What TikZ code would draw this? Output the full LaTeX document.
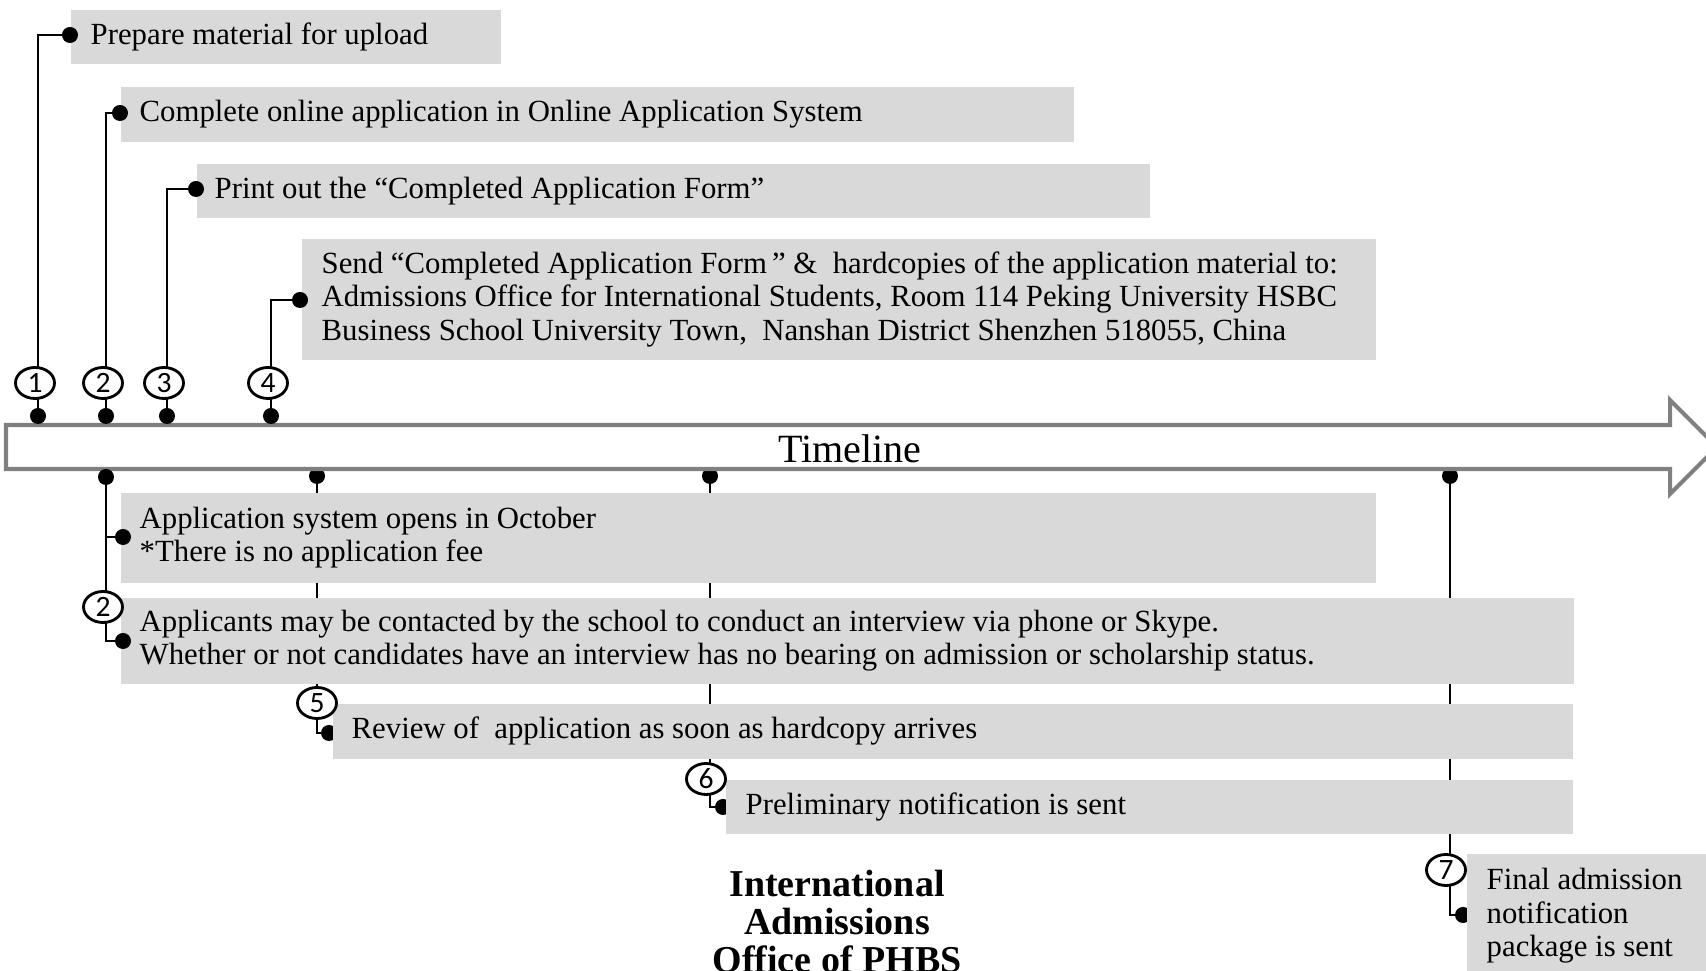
\documentclass[tikz,border=0pt]{standalone}
\usepackage{fontspec}
\setmainfont{Liberation Serif}
\newfontfamily\numfont{Carlito}
\usetikzlibrary{shapes.geometric,calc}
\definecolor{boxgray}{RGB}{217,217,217}
\definecolor{tlgray}{RGB}{128,128,128}
\newcommand\bodyfont{\fontsize{8.75pt}{9.5pt}\selectfont}
\pgfdeclarelayer{bg}
\pgfsetlayers{bg,main}
\tikzset{
 box/.style={fill=boxgray, draw=none, inner sep=0pt, anchor=north west},
 txt/.style={anchor=west, inner sep=0pt, align=left, font=\bodyfont},
 dot/.style={circle, fill=black, inner sep=0pt, minimum size=0.16cm},
 num/.style={ellipse, draw=black, line width=0.8pt, fill=white, inner sep=0pt, minimum width=0.39cm, minimum height=0.31cm, font=\numfont\fontsize{8.4pt}{9pt}\selectfont},
 con/.style={draw=black, line width=0.8pt},
}
\begin{document}
\begin{tikzpicture}[x=0.01cm, y=-0.01cm]
\useasboundingbox (0,0) rectangle (1706,971);
% ---------- boxes ----------
\node[box, minimum width=4.30cm, minimum height=0.54cm] (b1) at (70,9) {};
\node[txt] (t1) at ($(b1.west)+(20,0)$) {Prepare material for upload};
\node[box, minimum width=9.53cm, minimum height=0.55cm] (b2) at (120,86) {};
\node[txt] (t2) at ($(b2.west)+(19,0)$) {Complete online application in Online Application System};
\node[box, minimum width=9.53cm, minimum height=0.54cm] (b3) at (196,163) {};
\node[txt] (t3) at ($(b3.west)+(18,0)$) {Print out the “Completed Application Form”};
\node[box, minimum width=10.74cm, minimum height=1.21cm] (b4) at (301,238) {};
\node[txt] (t4) at ($(b4.west)+(20,0)$) {Send “Completed Application Form\,” \&\ \ hardcopies of the application material to:\\Admissions Office for International Students, Room 114 Peking University HSBC\\Business School University Town,\ \ Nanshan District Shenzhen 518055, China};
\node[box, minimum width=12.55cm, minimum height=0.90cm] (bA) at (120,492) {};
\node[txt] (tA) at ($(bA.west)+(19,0)$) {Application system opens in October\\*There is no application fee};
\node[box, minimum width=14.52cm, minimum height=0.86cm] (bB) at (120,597) {};
\node[txt] (tB) at ($(bB.west)+(19,0)$) {Applicants may be contacted by the school to conduct an interview via phone or Skype.\\Whether or not candidates have an interview has no bearing on admission or scholarship status.};
\node[box, minimum width=12.40cm, minimum height=0.55cm] (bC) at (332,703) {};
\node[txt] (tC) at ($(bC.west)+(19,0)$) {Review of\ \ application as soon as hardcopy arrives};
\node[box, minimum width=8.47cm, minimum height=0.54cm] (bD) at (725,779) {};
\node[txt] (tD) at ($(bD.west)+(20,0)$) {Preliminary notification is sent};
\node[box, minimum width=2.50cm, minimum height=1.24cm] (bE) at (1466,853) {};
\node[txt] (tE) at ($(bE.west)+(20,0)$) {Final admission\\notification\\package is sent};
% ---------- timeline ----------
\draw[draw=tlgray, line width=1.15pt, fill=white] (6,425) -- (1670,425) -- (1670,400) -- (1717,447) -- (1670,494) -- (1670,469) -- (6,469) -- cycle;
\node[font=\fontsize{11.4pt}{13pt}\selectfont, inner sep=0pt] (tl) at (850,449) {Timeline};
% ---------- dots ----------
\node[dot] (td1) at (38,416) {};
\node[dot] (td2) at (106,416) {};
\node[dot] (td3) at (167,416) {};
\node[dot] (td4) at (271,416) {};
\node[dot] (pd1) at (70,35) {};
\node[dot] (pd2) at (120,113) {};
\node[dot] (pd3) at (196,189) {};
\node[dot] (pd4) at (300,300) {};
\node[dot] (bd1) at (106,477) {};
\node[dot] (aD) at (123,537) {};
\node[dot] (bDt) at (123,641) {};
\begin{pgfonlayer}{bg}
\node[dot] (bd2) at (317,476) {};
\node[dot] (bd3) at (710,476) {};
\node[dot] (bd4) at (1450,476) {};
\node[dot] (cD) at (329,733) {};
\node[dot] (dD) at (723,807) {};
\node[dot] (eD) at (1463,915) {};
% connectors
\draw[con] (td1.center) |- (pd1.center);
\draw[con] (td2.center) |- (pd2.center);
\draw[con] (td3.center) |- (pd3.center);
\draw[con] (td4.center) |- (pd4.center);
\draw[con] (bd1.center) |- (aD.center);
\draw[con] (bd1.center) |- (bDt.center);
\draw[con] (bd2.center) |- (cD.center);
\draw[con] (bd3.center) |- (dD.center);
\draw[con] (bd4.center) |- (eD.center);
\end{pgfonlayer}
% ---------- numbered ellipses ----------
\node[num] (n1) at (35,383) {1};
\node[num] (n2) at (103,383) {2};
\node[num] (n3) at (164,383) {3};
\node[num] (n4) at (268,383) {4};
\node[num] (n2b) at (103,607) {2};
\node[num] (n5) at (317,703) {5};
\node[num] (n6) at (706,779) {6};
\node[num] (n7) at (1446,870) {7};
% ---------- title ----------
\node[font=\bfseries\fontsize{10.8pt}{10.8pt}\selectfont, align=center, anchor=north, inner sep=0pt] (title) at (837,869) {International\\Admissions\\Office of PHBS};
\end{tikzpicture}
\end{document}
